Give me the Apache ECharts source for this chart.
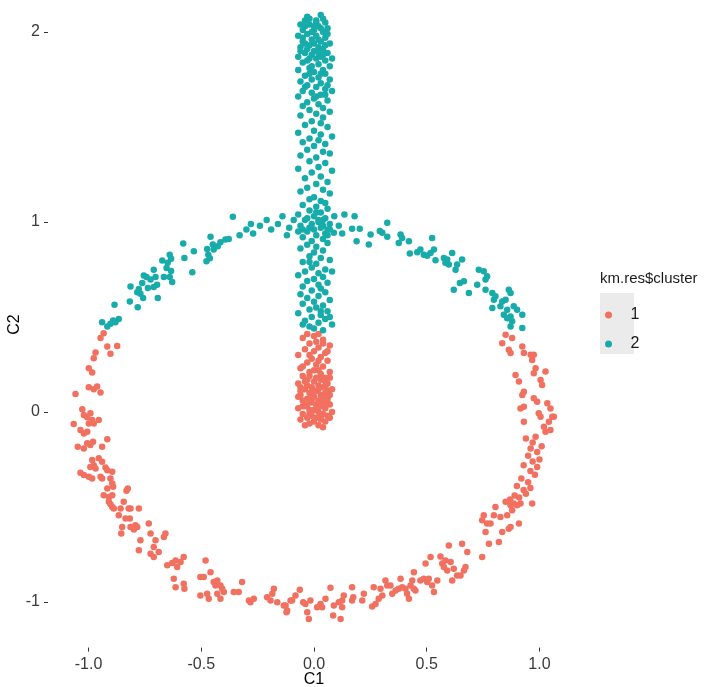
<!DOCTYPE html>
<html>
<head>
<meta charset="utf-8">
<title>km.res$cluster</title>
<script src="https://cdn.jsdelivr.net/npm/echarts@6/dist/echarts.min.js"></script>
<style>
  html, body { margin: 0; padding: 0; background: #ffffff; }
  #chart { width: 705px; height: 687px; }
</style>
</head>
<body>
<div id="chart"></div>
<script>
// Cluster labels and axis ticks
const clusterNames = ['1', '2'];
const xTicks = [-1, -0.5, 0, 0.5, 1];
const yTicks = [-1, 0, 1, 2];

// Cluster 1: lower part of the stem
const c1Stem = [
  [-0.03,0.41],[0.02,0.41],[0.00,0.40],[-0.05,0.39],[0.04,0.38],[0.01,0.37],[-0.02,0.36],[0.07,0.35],
  [0.02,0.34],[-0.04,0.33],[0.00,0.32],[0.05,0.31],[-0.07,0.30],[0.03,0.29],[-0.01,0.28],[0.06,0.27],
  [-0.03,0.26],[0.01,0.25],[0.04,0.24],[-0.06,0.23],[0.00,0.22],[0.07,0.21],[-0.02,0.21],[0.03,0.20],
  [-0.05,0.19],[0.01,0.18],[0.05,0.18],[-0.03,0.17],[0.00,0.16],[0.06,0.15],[-0.07,0.15],[0.02,0.14],
  [-0.01,0.13],[0.04,0.13],[-0.04,0.12],[0.08,0.12],[0.01,0.11],[-0.02,0.10],[0.05,0.10],[-0.06,0.09],
  [0.03,0.09],[0.00,0.08],[-0.03,0.07],[0.06,0.07],[0.02,0.06],[-0.05,0.06],[0.04,0.05],[-0.01,0.05],
  [0.07,0.04],[0.01,0.04],[-0.04,0.03],[0.03,0.03],[-0.07,0.02],[0.05,0.02],[0.00,0.01],[-0.02,0.01],
  [0.08,0.00],[0.02,0.00],[-0.05,-0.01],[0.04,-0.01],[-0.01,-0.02],[0.06,-0.02],[0.01,-0.03],[-0.03,-0.03],
  [0.03,-0.04],[-0.06,-0.04],[0.05,-0.05],[0.00,-0.05],[-0.02,-0.06],[0.02,-0.07],[0.04,-0.08],[-0.04,-0.07],
  [0.07,-0.03],[-0.07,0.08],[0.05,0.16],[-0.02,0.19],[0.02,0.22],[-0.06,0.13],[0.06,0.11],[-0.03,0.04],
  [0.02,0.12],[-0.04,0.16],[0.07,0.09],[-0.01,0.07],[0.03,0.17],
  [-0.05,0.03],[0.06,0.05],[-0.02,-0.01],[0.04,0.08],[-0.06,0.11],[0.01,0.02],[0.05,0.13],[-0.03,0.14],
  [0.03,-0.02],[-0.01,0.10],[0.07,0.18],[-0.05,0.24],[0.02,0.27],[0.06,0.32],[-0.02,0.30],[0.04,0.36]
];

// Cluster 1: lower arc of the ring
const c1Ring = [
  [0.85,0.406],[0.835,0.362],[0.879,0.389],[0.864,0.327],[0.872,0.31],[0.924,0.345],[0.931,0.31],[0.961,0.301],
  [0.975,0.301],[0.968,0.274],[0.983,0.23],[0.975,0.204],[1.027,0.213],[1.005,0.169],[1.012,0.142],[0.894,0.195],
  [0.909,0.16],[0.931,0.107],[0.924,0.09],[0.916,0.019],[0.931,0.028],[0.975,0.072],[0.99,0.054],[0.997,-0.007],
  [1.005,-0.025],[1.035,0.046],[1.049,0.019],[1.057,-0.025],[1.064,-0.025],[1.042,-0.051],[0.931,-0.051],[1.02,-0.078],
  [1.027,-0.104],[1.049,-0.095],[0.983,-0.13],[0.961,-0.192],
  [0.94,-0.14],[1.01,-0.18],[0.97,-0.16],[0.99,-0.21],[0.95,-0.23],[0.97,-0.26],[1.00,-0.25],[0.93,-0.28],
  [0.99,-0.29],[0.96,-0.31],[0.98,-0.33],[0.92,-0.35],[0.95,-0.37],[0.90,-0.39],[0.93,-0.41],[0.96,-0.40],
  [0.89,-0.44],[0.91,-0.45],[0.94,-0.43],[0.87,-0.46],
  [-0.134,-1.018],[-0.122,-1.054],[-0.097,-0.992],[-0.082,-0.966],[-0.063,-0.936],[-0.048,-1.001],[-0.038,-1.01],[-0.03,-1.054],
  [-0.023,-1.089],[-0.016,-0.992],[0.014,-1.027],[0.029,-1.01],[0.036,-1.027],[0.051,-0.983],[0.073,-0.925],[0.088,-1.018],
  [0.085,-1.071],[0.118,-1.089],[0.11,-1.001],[0.125,-0.992],[0.132,-0.966],[0.125,-1.027],[0.169,-0.992],[0.174,-0.975],
  [0.169,-0.922],[0.214,-0.992],[0.221,-0.957],[0.265,-0.922],[0.258,-1.024],[0.273,-1.01],[0.287,-0.983],[0.303,-0.966],
  [0.295,-0.93],[0.317,-0.887],[0.325,-0.913],[0.339,-0.913],[0.347,-0.957],[0.362,-0.939],[0.376,-0.93],[0.384,-0.878],
  [0.391,-0.922],[0.406,-0.93],[0.413,-0.957],[0.421,-0.983],[0.428,-0.913],[0.443,-0.93],[0.436,-0.887],[0.45,-0.939],
  [0.443,-0.843],[0.472,-0.887],[0.487,-0.878],[0.502,-0.895],[0.495,-0.798],[0.509,-0.878],[0.517,-0.763],[0.524,-0.913],
  [0.532,-0.948],[0.547,-0.887],[0.561,-0.76],[0.569,-0.798],[0.576,-0.816],[0.583,-0.781],[0.591,-0.834],[0.598,-0.702],
  [0.606,-0.79],[0.613,-0.887],[0.62,-0.825],[0.635,-0.86],[0.65,-0.86],[0.657,-0.693],[0.665,-0.834],[0.672,-0.816],
  [0.68,-0.737],[0.746,-0.763],[0.746,-0.57],[0.753,-0.544],[0.761,-0.632],[0.768,-0.587],[0.776,-0.693],[0.783,-0.587],
  [0.798,-0.544],[0.805,-0.5],[0.82,-0.684],[0.827,-0.552],[0.835,-0.632],[0.85,-0.473],[0.857,-0.544],[0.864,-0.614],
  [0.872,-0.605],[0.872,-0.491],[0.879,-0.517],[0.886,-0.482],[0.901,-0.491],[0.909,-0.587],[0.916,-0.482],[0.968,-0.482],
  [-0.933,0.415],[-0.947,0.389],[-0.917,0.345],[-0.873,0.348],[-0.903,0.306],[-0.969,0.313],[-0.977,0.283],[-0.999,0.23],
  [-0.984,0.208],
  [-1.058,0.095],[-0.999,0.13],[-0.977,0.12],[-0.962,0.134],[-0.947,0.102],[-1.028,0.014],[-1.021,-0.016],[-1.006,-0.028],
  [-0.992,-0.007],[-0.984,-0.042],[-0.999,-0.06],[-0.977,-0.06],[-0.955,-0.042],[-1.066,-0.063],[-1.036,-0.095],[-1.021,-0.113],
  [-1.006,-0.104],[-1.048,-0.183],[-1.021,-0.192],[-1.006,-0.165],[-0.992,-0.174],[-0.98,-0.157],[-0.94,-0.183],[-0.917,-0.144],
  [-0.984,-0.253],[-0.977,-0.28],[-0.969,-0.297],[-0.992,-0.289],[-0.955,-0.244],[-0.94,-0.262],[-0.925,-0.292],[-0.917,-0.306],
  [-0.895,-0.315],[-1.036,-0.32],[-1.021,-0.332],[-0.999,-0.341],[-0.984,-0.35],[-0.947,-0.341],[-0.94,-0.35],[-0.903,-0.35],
  [-0.895,-0.376],[-0.891,-0.394],[-0.917,-0.403],[-0.933,-0.438],[-0.91,-0.447],[-0.895,-0.438],[-0.91,-0.473],[-0.903,-0.485],
  [-0.895,-0.5],[-0.888,-0.508],[-0.858,-0.508],[-0.844,-0.473],[-0.832,-0.415],[-0.826,-0.403],[-0.822,-0.508],[-0.814,-0.508],
  [-0.777,-0.508],[-0.866,-0.544],[-0.836,-0.561],[-0.817,-0.561],[-0.851,-0.605],[-0.855,-0.64],[-0.814,-0.605],[-0.792,-0.596],
  [-0.784,-0.605],[-0.799,-0.619],[-0.77,-0.675],[-0.733,-0.587],[-0.725,-0.64],[-0.703,-0.675],[-0.711,-0.711],[-0.725,-0.746],
  [-0.711,-0.763],[-0.689,-0.737],[-0.777,-0.728],[-0.666,-0.658],[-0.659,-0.64],[-0.651,-0.807],[-0.629,-0.795],[-0.614,-0.781],
  [-0.592,-0.79],[-0.578,-0.763],[-0.607,-0.816],[-0.622,-0.878],[-0.614,-0.922],[-0.578,-0.904],[-0.575,-0.93],[-0.504,-0.869],
  [-0.489,-0.869],[-0.481,-0.781],[-0.459,-0.843],[-0.445,-0.895],[-0.437,-0.913],[-0.429,-0.887],[-0.415,-0.913],[-0.407,-0.93],
  [-0.429,-0.957],[-0.415,-0.983],[-0.474,-0.957],[-0.467,-0.983],[-0.504,-0.966],[-0.4,-0.948],[-0.356,-0.948],[-0.334,-0.948],
  [-0.319,-0.895],[-0.289,-0.992],[-0.282,-1.001],[-0.267,-0.983],[-0.208,-0.975],[-0.193,-0.992],[-0.178,-0.93],[-0.185,-0.957],
  [-0.163,-1.001],[-0.126,-1.018],[-0.119,-1.045],[-0.104,-0.992]
];

// Cluster 2: upper part of the stem
const c2Stem = [
  [0.03,2.09],[-0.04,2.06],[0.01,2.06],[0.05,2.05],[-0.06,2.04],[-0.02,2.04],[0.02,2.03],[0.06,2.02],
  [-0.05,2.01],[0.00,2.01],[0.04,2.00],[-0.03,1.99],[0.01,1.98],[-0.07,1.98],[0.05,1.97],[-0.01,1.96],
  [0.03,1.95],[-0.05,1.95],[0.07,1.94],[-0.02,1.93],[0.02,1.92],[-0.06,1.92],[0.04,1.91],[0.00,1.90],
  [-0.04,1.89],[0.06,1.89],[-0.01,1.88],[0.03,1.87],[-0.07,1.87],[0.01,1.86],[0.05,1.85],[-0.03,1.85],
  [0.08,1.86],[-0.02,2.07],[0.04,2.07],[-0.05,1.97],[0.02,1.96],[-0.03,1.91],[0.06,1.99],[0.00,2.03],
  [-0.04,2.03],[0.03,2.02],[-0.01,2.00],[0.05,1.93],[-0.04,1.94],[0.00,1.94],[0.02,1.89],[-0.06,1.90],
  [0.04,1.88],[-0.02,1.86],[0.01,2.05],[-0.03,2.08],
  [-0.05,1.84],[0.02,1.83],[0.07,1.82],[-0.02,1.81],[0.04,1.80],[-0.07,1.80],[0.00,1.79],[0.05,1.78],
  [-0.04,1.77],[0.02,1.76],[-0.01,1.75],[0.07,1.75],[-0.06,1.74],[0.03,1.73],[-0.03,1.72],[0.01,1.71],
  [0.05,1.70],[-0.05,1.69],[0.08,1.69],[-0.01,1.68],[0.03,1.67],[-0.07,1.66],[0.00,1.65],[0.06,1.64],
  [-0.03,1.63],[0.02,1.62],[-0.05,1.61],[0.04,1.60],[0.06,1.72],[-0.02,1.78],[0.01,1.66],
  [-0.01,1.82],[0.03,1.78],[-0.04,1.71],[0.05,1.67],
  [-0.02,1.59],[0.07,1.58],[0.01,1.57],[-0.06,1.56],[0.04,1.55],[-0.01,1.53],[0.03,1.52],[-0.04,1.51],
  [0.06,1.50],[0.00,1.48],[-0.07,1.47],[0.03,1.46],[0.08,1.45],[-0.02,1.44],[0.02,1.43],[-0.05,1.42],
  [0.05,1.41],[0.00,1.40],[-0.03,1.38],[0.04,1.37],[0.07,1.36],[-0.06,1.35],
  [0.01,1.34],[-0.02,1.32],[0.05,1.31],[0.02,1.29],[-0.07,1.28],[0.08,1.27],[-0.01,1.26],[0.03,1.24],
  [-0.04,1.23],[0.06,1.21],[0.01,1.20],[-0.03,1.18],[0.04,1.17],[-0.06,1.16],[0.07,1.15],[0.00,1.13],
  [-0.02,1.12],[0.03,1.11],[0.05,1.10],
  [-0.05,1.09],[0.01,1.08],[0.06,1.07],[-0.02,1.06],[0.03,1.05],[-0.07,1.04],[0.00,1.03],[0.05,1.02],
  [-0.04,1.01],[0.02,1.00],[-0.01,0.99],[0.07,0.99],[-0.06,0.98],[0.03,0.97],[0.00,0.96],[-0.03,0.95],
  [0.05,0.94],[0.01,0.93],[-0.05,0.92],[0.04,0.91],[-0.01,0.90],[0.02,1.01],[-0.02,0.97],[0.06,0.96],
  [-0.03,1.02],[0.04,0.98],[-0.05,0.96],[0.01,1.05],
  [0.06,0.89],[-0.03,0.88],[0.01,0.87],[-0.06,0.86],[0.04,0.85],[0.00,0.84],[-0.02,0.82],[0.03,0.81],
  [0.07,0.80],[-0.05,0.79],[0.01,0.78],[-0.01,0.76],[0.05,0.75],[-0.04,0.74],[0.02,0.73],[-0.07,0.72],
  [0.04,0.71],[0.00,0.70],[-0.03,0.69],[0.06,0.68],[0.02,0.67],[-0.05,0.66],[0.03,0.65],[0.08,0.74],
  [-0.02,0.79],
  [-0.01,0.64],[0.05,0.63],[-0.06,0.62],[0.02,0.61],[-0.03,0.60],[0.07,0.59],[0.00,0.58],[-0.05,0.57],
  [0.04,0.56],[0.01,0.55],[-0.02,0.54],[0.06,0.53],[-0.07,0.52],[0.03,0.51],[-0.01,0.50],[0.05,0.49],
  [-0.04,0.48],[0.02,0.47],[0.08,0.46],[-0.02,0.45],[0.00,0.44],[0.04,0.43],[-0.05,0.46],[0.03,0.53],
  [0.07,0.50]
];

// Cluster 2: upper arc of the ring
const c2Ring = [
  [-0.94,0.473],[-0.917,0.45],[-0.903,0.464],[-0.891,0.482],[-0.881,0.473],[-0.866,0.489],[-0.885,0.565],[-0.817,0.582],
  [-0.782,0.551],[-0.814,0.661],[-0.784,0.63],[-0.77,0.623],[-0.777,0.647],[-0.758,0.60],[-0.737,0.653],[-0.711,0.658],
  [-0.696,0.67],[-0.693,0.60],[-0.755,0.718],[-0.743,0.711],[-0.725,0.697],[-0.762,0.679],[-0.703,0.711],[-0.711,0.749],
  [-0.673,0.797],[-0.654,0.758],[-0.666,0.711],[-0.64,0.828],[-0.634,0.806],[-0.649,0.785],[-0.634,0.742],[-0.629,0.684],
  [-0.64,0.711],[-0.58,0.887],[-0.533,0.846],[-0.575,0.811],[-0.54,0.735],[-0.474,0.858],[-0.469,0.828],[-0.477,0.793],
  [-0.462,0.809],[-0.445,0.855],[-0.427,0.872],[-0.459,0.922],[-0.449,0.881],[-0.415,0.893],[-0.393,0.908],[-0.378,0.911],
  [-0.36,1.027],
  [-0.33,0.93],[-0.30,0.96],[-0.27,0.94],[-0.24,0.98],[-0.21,1.01],[-0.19,0.96],[-0.16,0.99],[-0.14,1.03],
  [-0.11,0.97],[-0.09,1.01],[-0.07,0.95],[-0.12,0.93],[-0.28,0.99],
  [0.135,1.04],[0.18,1.03],[0.169,0.964],[0.203,0.964],[0.125,0.939],[0.088,0.943],[0.189,0.899],[0.243,0.881],
  [0.251,0.934],[0.292,0.952],[0.303,0.943],[0.325,0.996],[0.325,0.922],[0.384,0.934],[0.391,0.916],[0.376,0.89],
  [0.421,0.899],[0.425,0.834],[0.458,0.841],[0.472,0.855],[0.487,0.828],[0.502,0.823],[0.524,0.916],[0.532,0.855],
  [0.539,0.799],[0.517,0.837],[0.576,0.811],[0.583,0.785],[0.591,0.802],[0.598,0.776],[0.613,0.837],[0.628,0.749],
  [0.657,0.802],[0.635,0.776],[0.62,0.644],[0.647,0.679],[0.665,0.688],[0.687,0.626],[0.724,0.67],[0.731,0.749],
  [0.753,0.741],[0.761,0.697],[0.768,0.714],[0.761,0.644],[0.791,0.626],[0.798,0.591],[0.791,0.547],[0.805,0.609],
  [0.827,0.556],[0.835,0.582],[0.85,0.591],[0.842,0.512],[0.864,0.644],[0.872,0.626],[0.857,0.538],[0.872,0.503],
  [0.879,0.477],[0.872,0.45],[0.886,0.556],[0.901,0.538],[0.924,0.512],[0.924,0.442],[0.857,0.494],
  [0.04,1.01],[0.07,0.96],[0.09,1.03],[0.11,0.98],[0.06,0.93]
];

const colors = ['#F2705F', '#17ABAA'];
const fontFamily = '"Liberation Sans", Arial, Helvetica, sans-serif';

const chart = echarts.init(document.getElementById('chart'), null, { renderer: 'canvas' });

const tickStyle = { show: true, length: 4, lineStyle: { color: '#333333', width: 1 } };
const labelStyle = { color: '#3a3a3a', fontSize: 16, fontFamily: fontFamily };
const nameStyle = { color: '#000000', fontSize: 16, fontFamily: fontFamily };

chart.setOption({
  animation: false,
  backgroundColor: '#ffffff',
  grid: { left: 48, right: 125, top: 1.6, bottom: 39.4, containLabel: false, outerBoundsMode: 'none' },
  xAxis: {
    type: 'value',
    min: -1.18, max: 1.18,
    name: 'C1', nameLocation: 'middle', nameGap: 24, nameMoveOverlap: false,
    nameTextStyle: nameStyle,
    axisLine: { show: false, onZero: false },
    splitLine: { show: false },
    axisTick: Object.assign({ customValues: xTicks }, tickStyle),
    axisLabel: Object.assign({
      customValues: xTicks, margin: 9,
      formatter: function (v) { return v.toFixed(1); }
    }, labelStyle)
  },
  yAxis: {
    type: 'value',
    min: -1.24, max: 2.16,
    name: 'C2', nameLocation: 'middle', nameGap: 25, nameMoveOverlap: false,
    nameTextStyle: nameStyle,
    axisLine: { show: false, onZero: false },
    splitLine: { show: false },
    axisTick: Object.assign({ customValues: yTicks }, tickStyle),
    axisLabel: Object.assign({
      customValues: yTicks, margin: 8,
      formatter: function (v) { return String(v); }
    }, labelStyle)
  },
  legend: {
    orient: 'vertical',
    left: 600, top: 302,
    itemWidth: 34, itemHeight: 7, itemGap: 13,
    icon: 'circle',
    symbolKeepAspect: true,
    selectedMode: false,
    textStyle: { fontSize: 16, lineHeight: 16, color: '#1a1a1a', fontFamily: fontFamily },
    data: clusterNames
  },
  graphic: [
    { type: 'rect', left: 600, top: 293, z: 0, shape: { width: 34, height: 61 }, style: { fill: '#EBEBEB' } },
    { type: 'text', left: 600, top: 271, z: 1, style: { text: 'km.res$cluster', fontSize: 15, fontFamily: fontFamily, fill: '#1a1a1a' } }
  ],
  series: [
    {
      name: clusterNames[0], type: 'scatter', symbol: 'circle', symbolSize: 6.5,
      itemStyle: { color: colors[0], opacity: 1 },
      data: c1Ring.concat(c1Stem)
    },
    {
      name: clusterNames[1], type: 'scatter', symbol: 'circle', symbolSize: 6.5,
      itemStyle: { color: colors[1], opacity: 1 },
      data: c2Ring.concat(c2Stem)
    }
  ]
});
</script>
</body>
</html>
